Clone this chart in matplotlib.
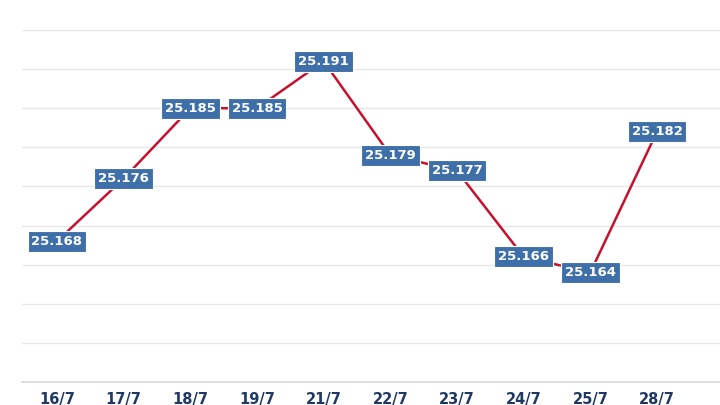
import matplotlib.pyplot as plt
import numpy as np

dates = ["16/7", "17/7", "18/7", "19/7", "21/7", "22/7", "23/7", "24/7", "25/7", "28/7"]
values = [25.168, 25.176, 25.185, 25.185, 25.191, 25.179, 25.177, 25.166, 25.164, 25.182]

plt.rcParams["font.family"] = ["DejaVu Sans"]

fig = plt.figure(figsize=(7.2, 4.05), dpi=100)
ax = fig.add_axes([22 / 720, 1 - 382 / 405, 1 - 22 / 720, (382 - 30) / 405])
x = np.arange(len(dates))
ax.plot(x, values, color="#C8102E", lw=1.8, zorder=2)
ax.set_xlim(-0.525, 9.945)
ax.set_ylim(25.150, 25.195)
ax.set_yticks(np.arange(25.150, 25.1951, 0.005))
ax.set_yticklabels([])
ax.tick_params(axis="y", length=0)
ax.tick_params(axis="x", length=0, pad=7)
ax.set_xticks(x)
ax.set_xticklabels(dates, fontsize=10.5, fontweight="bold", color="#1F3864")
ax.grid(axis="y", color="#E6E6E6", lw=0.9)
for s in ["top", "right", "left"]:
    ax.spines[s].set_visible(False)
ax.spines["bottom"].set_color("#D9D9D9")
ax.spines["bottom"].set_linewidth(1.2)

for xi, v in zip(x, values):
    ax.text(xi, v, f"{v:.3f}", ha="center", va="center", fontsize=9.5,
            fontweight="bold", color="white", zorder=3,
            bbox=dict(boxstyle="square,pad=0.3", fc="#3F6FA8", ec="white", lw=0.8))

fig.savefig("out.png", dpi=100)
